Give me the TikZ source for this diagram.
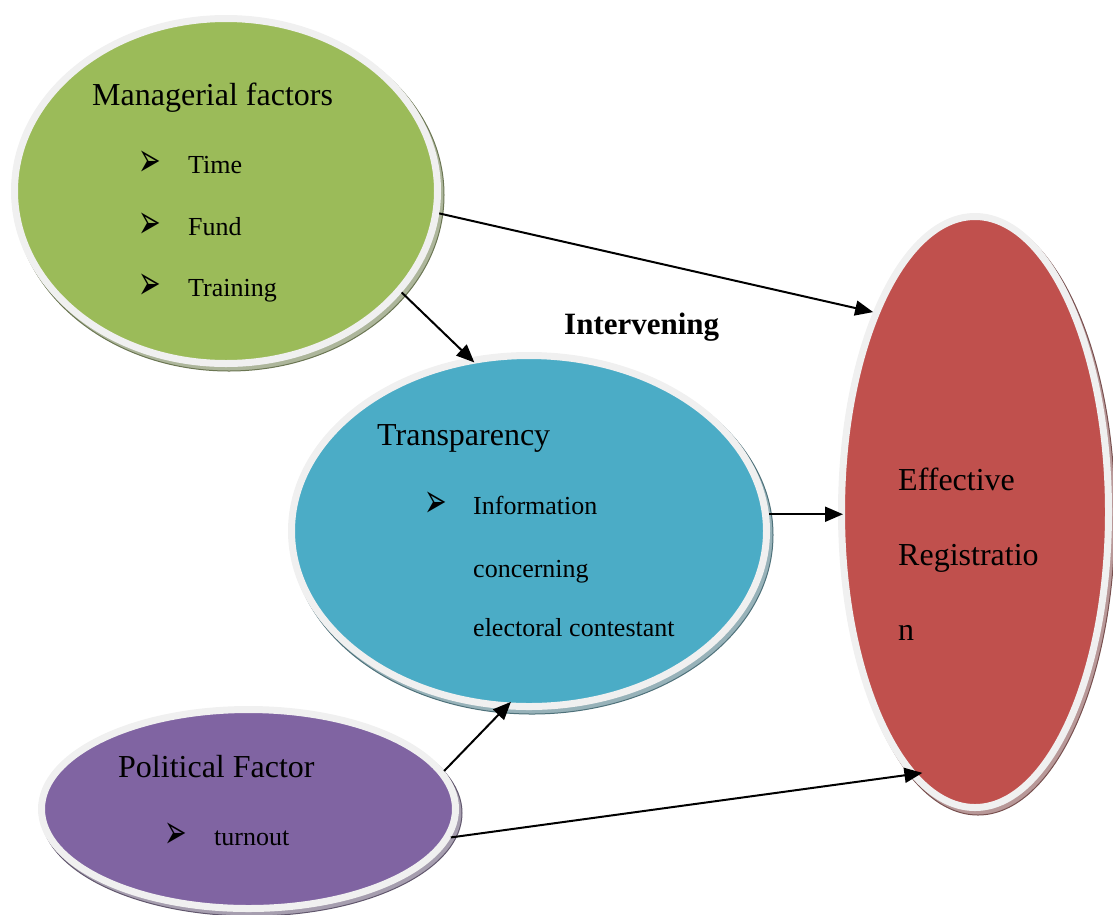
\documentclass[tikz,border=0pt]{standalone}
\usepackage{fontspec}
\usepackage{graphicx}
\setmainfont{Liberation Serif}
\newfontfamily\dejavu{DejaVu Sans}
\usetikzlibrary{shapes.geometric,arrows.meta}
\definecolor{cgreen}{HTML}{9BBB59}
\definecolor{cblue}{HTML}{4BACC6}
\definecolor{cred}{HTML}{C0504D}
\definecolor{cpurple}{HTML}{8064A2}
\definecolor{rim}{HTML}{F0F0F0}
\newcommand{\arrowbullet}{\scalebox{0.9}[1.6]{➢}}
\begin{document}
\begin{tikzpicture}[x=1pt,y=-1pt,
  bubble/.style={ellipse, draw=rim, line width=7pt, inner sep=0pt},
  shadowell/.style={ellipse, inner sep=0pt, line width=1pt},
  head/.style={anchor=base west, inner sep=0pt, font=\fontsize{32}{38}\selectfont},
  item/.style={anchor=base west, inner sep=0pt, font=\fontsize{26}{31}\selectfont},
  bul/.style={anchor=center, inner sep=0pt, font=\dejavu\fontsize{30}{36}\selectfont},
  arr/.style={-{Triangle[length=18pt,width=15pt]}, line width=2pt}]
\useasboundingbox (0,0) rectangle (1113,914);

% shadows
\node[shadowell, fill=cgreen!40!gray!70!white, draw=cgreen!45!black!80!white, minimum width=430pt, minimum height=352pt] (gsh) at (229,195) {};
\node[shadowell, fill=cblue!40!gray!70!white, draw=cblue!45!black!80!white, minimum width=482pt, minimum height=358pt] (bsh) at (532,535) {};
\node[shadowell, fill=cpurple!40!gray!70!white, draw=cpurple!45!black!80!white, minimum width=421pt, minimum height=206pt] (psh) at (251.5,813) {};
\node[shadowell, fill=cred!40!gray!70!white, draw=cred!45!black!80!white, minimum width=274pt, minimum height=598pt] (rsh) at (978,516) {};

% ellipses
\node[bubble, fill=cgreen, minimum width=423pt, minimum height=345pt] (green) at (226,191) {};
\node[bubble, fill=cblue, minimum width=475pt, minimum height=351pt] (blue) at (529,531) {};
\node[bubble, fill=cpurple, minimum width=414pt, minimum height=199pt] (purple) at (248.5,809) {};
\node[bubble, fill=cred, minimum width=267pt, minimum height=591pt] (red) at (975,512) {};

% texts
\node[head] (tman) at (92,105) {Managerial factors};
\node[bul] (b1) at (150,164) {\arrowbullet};
\node[item] (t1) at (188,173) {Time};
\node[bul] (b2) at (150,226) {\arrowbullet};
\node[item] (t2) at (188,235) {Fund};
\node[bul] (b3) at (150,287) {\arrowbullet};
\node[item] (t3) at (188,296) {Training};

\node[head] (ttr) at (377,445) {Transparency};
\node[bul] (b4) at (436,505) {\arrowbullet};
\node[item] (t4) at (473,514) {Information};
\node[item] (t5) at (473,577) {concerning};
\node[item] (t6) at (473,636) {electoral contestant};

\node[head] (tpol) at (118,777) {Political Factor};
\node[bul] (b5) at (176,836) {\arrowbullet};
\node[item] (t7) at (214,845) {turnout};

\node[head] (teff1) at (898,490) {Effective};
\node[head] (teff2) at (898,565) {Registratio};
\node[head] (teff3) at (898,640) {n};

\node[head, font=\bfseries\fontsize{31}{37}\selectfont] (tint) at (564,334) {Intervening};

% connectors
\draw[arr] (green.-6.5) -- (red.117);
\draw[arr, shorten >=-7pt] (green.-30.5) -- (blue.109.7);
\draw[arr, shorten >=-5pt] (blue.4.6) -- (blue.4.6 -| red.west);
\draw[arr, shorten >=-10pt] (purple.11.4) -- (blue.-98.4);
\draw[arr, shorten >=-13pt] (purple.-8.8) -- (red.-104.9);
\end{tikzpicture}
\end{document}
